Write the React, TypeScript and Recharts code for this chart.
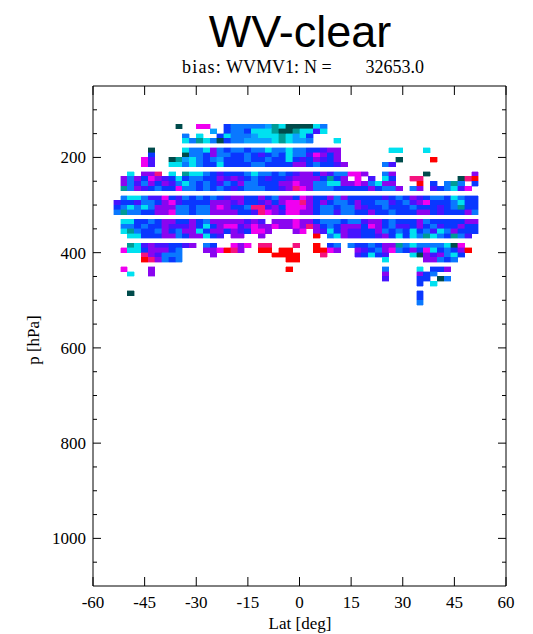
import React from 'react';
import { ComposedChart, XAxis, YAxis, ReferenceArea, Scatter } from 'recharts';

// ---- axes ----
const X_TICKS = [-60, -45, -30, -15, 0, 15, 30, 45, 60];
const Y_TICKS = [100, 150, 200, 250, 300, 350, 400, 450, 500, 550, 600, 650, 700, 750, 800, 850, 900, 950, 1000, 1050];
const Y_LABELED = [200, 400, 600, 800, 1000];
const X_DOMAIN = [-60, 60];
const Y_DOMAIN = [50, 1100];

// ---- grid definition ----
const LAT_START = -56; // left edge of first latitude bin
const LAT_STEP = 2;
const P_START = 130; // top edge of first pressure bin
const P_STEP = 10;

// ---- colour classes of the bias (red = low ... dark teal = high) ----
const CLASS_COLORS: Record<string, string> = {
  R: '#ff0000',
  P: '#f5137f',
  M: '#f000f0',
  V: '#8a05f0',
  I: '#4614ff',
  B: '#0a37ff',
  L: '#0a78ff',
  S: '#0aa0ff',
  C: '#00e1f0',
  T: '#009b96',
  D: '#004b4b',
};

// one string per pressure bin (130-140, 140-150, ...), one char per 2-deg latitude bin from -56
const ROWS = [
  '..........|D..MM..BLL|LLLSTCDDDD|CL........|..........|....',
  '..........|.....S.BLL|BCCCTDDTCC|IC........|..........|....',
  '..........|.L.C..BCLL|LSCCCTCSCB|..........|..........|....',
  '..........|.CLTCLDBLL|SSSSCTCSSL|...C......|..........|....',
  '..........|..........|..........|..........|..........|....',
  '......D...|.CLLCVLBLL|BLLCLLCLLB|BIVV......|.CC...C...|....',
  '......B...|.DLLBVLLBB|LBIBLBCLLI|MVBV......|..........|....',
  '.....MI..D|TSCLBLSBBB|LBBLBBCBIB|VIBV......|..D....R..|....',
  '.....MI..C|CLCLBBCBBB|BLLBBBBVVB|LBBIV.....|LI........|....',
  '..........|..........|..........|..........|..........|....',
  '...C.VVP.C|.TCCLBIBBB|LCLLBLBIVV|BVILLMMV..|LV....D...|...V',
  '..VLVBMVIB|CBLLBBVIVI|BLBIBBIVVV|VBTBV.M.I.|CB..PP....|.DPR',
  '..VLILVBVI|LCLBLBILBV|LLBBBVVMVV|LLCCVVMVLC|VV...R.B.L|TL.B',
  '..TLVIBLBB|MLLBLBLBIB|LLLBBIVPMV|LLLBBBBBVB|LLV.LV.IBL|CIM.',
  '..........|..........|..........|..........|..........|....',
  '..LCCLIIMB|ILBLBLBIVV|BBVBLVVBMV|BBVLVBBBBB|IBLBVIBLLB|CLBB',
  '.IBBILLBVM|IBBBBVVVIV|BBIVBVMMPV|BVBLLBVBBL|LIBLIVMBBB|LCBB',
  '.BLCLCLVVV|LLBLLVMVBB|LPPIVBMMMV|BLLBLLVIBB|LBBBLBBBIB|LTBB',
  '.LTLLBBVVM|LLBLLVVVVB|BIPMVIMMVV|BLLILLBBVB|BLBBBVVBIB|BBVL',
  '..........|..........|..........|..........|..........|....',
  '..CCBBLBVV|BBVBLVVVVV|IVI.VVVMVV|BLLLBLLIVV|BLBBBVLBBB|BBVV',
  '..LLBLBBVI|IIVBCBVMMI|VMVVMVVMVP|VBLBVVVBMV|BLIIBVBLIB|BVBB',
  '..CTLBBLVB|LVVCBVVBVI|BMMV...VM.|VICBVIIBBV|LBLBCBLICL|VBBB',
  '...CCBBBVV|LBVVCBI.VV|..V.......|R.LCVIIBBI|VBCBCLTCLB|TLI.',
  '..........|..........|..........|..........|..........|....',
  '...TCIVIIB|BIV.LB..MV|M.PP...P..|R.BL.LBBLB|VVTLCLLLLC|DM..',
  '..MCCBVVVB|L...VVMRPV|..RR.RR...|RRMV..VIBL|VMLBVBMCBL|BVR.',
  '.....PVILL|L....V....|....RRRR..|.P....IBCB|I...CDVIVL|CB..',
  '.....RPVLB|L.........|......RR..|..........|C.....VVLB|L...',
  '..........|..........|..........|..........|..........|....',
  '..M...V...|..........|......R...|..........|L....C.BBV|....',
  '...C..V...|..........|..........|..........|V....VBL..|....',
  '..........|..........|..........|..........|I....BB.DL|....',
  '..........|..........|..........|..........|.....B.C..|....',
  '..........|..........|..........|..........|..........|....',
  '...D......|..........|..........|..........|.....B....|....',
  '..........|..........|..........|..........|.....B....|....',
  '..........|..........|..........|..........|.....L....|....',
];

type Cell = { x1: number; x2: number; y1: number; y2: number; lat: number; p: number; fill: string };

const CELLS: Cell[] = [];
ROWS.forEach((row, k) => {
  const chars = row.replace(/\|/g, '');
  for (let c = 0; c < chars.length; c++) {
    const ch = chars[c];
    if (ch === '.' || !CLASS_COLORS[ch]) continue;
    const x1 = LAT_START + LAT_STEP * c;
    const y1 = P_START + P_STEP * k;
    CELLS.push({
      x1,
      x2: x1 + LAT_STEP,
      y1,
      y2: y1 + P_STEP,
      lat: x1 + LAT_STEP / 2,
      p: y1 + P_STEP / 2,
      fill: CLASS_COLORS[ch],
    });
  }
});

const FONT = "'Liberation Serif', 'Times New Roman', serif";

const BottomTick = (props: any) => {
  const { x, y, payload } = props;
  return (
    <g>
      <line x1={x} y1={y} x2={x} y2={y - 9} stroke="#000" strokeWidth={1} />
      <text x={x} y={y + 22} textAnchor="middle" fontFamily={FONT} fontSize={17} fill="#000">
        {payload.value}
      </text>
    </g>
  );
};

const TopTick = (props: any) => {
  const { x, y } = props;
  return <line x1={x} y1={y} x2={x} y2={y + 9} stroke="#000" strokeWidth={1} />;
};

const LeftTick = (props: any) => {
  const { x, y, payload } = props;
  const major = Y_LABELED.includes(payload.value);
  return (
    <g>
      <line x1={x} y1={y} x2={x + (major ? 8 : 4)} y2={y} stroke="#000" strokeWidth={1} />
      {major ? (
        <text x={x - 7} y={y + 6} textAnchor="end" fontFamily={FONT} fontSize={17} fill="#000">
          {payload.value}
        </text>
      ) : null}
    </g>
  );
};

const RightTick = (props: any) => {
  const { x, y, payload } = props;
  const major = Y_LABELED.includes(payload.value);
  return <line x1={x} y1={y} x2={x - (major ? 8 : 4)} y2={y} stroke="#000" strokeWidth={1} />;
};

const NoShape = () => <g />;

export default function App() {
  const W = 520;
  const H = 626;
  return (
    <div style={{ position: 'relative', width: W, height: H, background: '#fff' }}>
      <ComposedChart width={W} height={H} data={CELLS} margin={{ top: 77, right: 21, bottom: 47, left: 84 }}>
        <XAxis
          dataKey="lat"
          type="number"
          domain={X_DOMAIN}
          ticks={X_TICKS}
          interval={0}
          height={1}
          tickSize={0}
          tickMargin={0}
          tick={BottomTick}
          tickLine={false}
          axisLine={{ stroke: '#000', strokeWidth: 1 }}
          allowDataOverflow
        />
        <XAxis
          xAxisId="top"
          dataKey="lat"
          orientation="top"
          type="number"
          domain={X_DOMAIN}
          ticks={X_TICKS}
          interval={0}
          height={1}
          tickSize={0}
          tickMargin={0}
          tick={TopTick}
          tickLine={false}
          axisLine={{ stroke: '#000', strokeWidth: 1 }}
          allowDataOverflow
        />
        <YAxis
          dataKey="p"
          type="number"
          domain={Y_DOMAIN}
          reversed
          ticks={Y_TICKS}
          interval={0}
          width={1}
          tickSize={0}
          tickMargin={0}
          tick={LeftTick}
          tickLine={false}
          axisLine={{ stroke: '#000', strokeWidth: 1 }}
          allowDataOverflow
        />
        <YAxis
          yAxisId="right"
          dataKey="p"
          orientation="right"
          type="number"
          domain={Y_DOMAIN}
          reversed
          ticks={Y_TICKS}
          interval={0}
          width={1}
          tickSize={0}
          tickMargin={0}
          tick={RightTick}
          tickLine={false}
          axisLine={{ stroke: '#000', strokeWidth: 1 }}
          allowDataOverflow
        />
        {CELLS.map((c, i) => (
          <ReferenceArea
            key={i}
            x1={c.x1}
            x2={c.x2}
            y1={c.y1}
            y2={c.y2}
            fill={c.fill}
            fillOpacity={1}
            stroke={c.fill}
            strokeWidth={0.4}
            shapeRendering="crispEdges"
            ifOverflow="hidden"
          />
        ))}
        <Scatter dataKey="p" shape={NoShape} isAnimationActive={false} legendType="none" />
      </ComposedChart>
      <svg
        width={W}
        height={H}
        style={{ position: 'absolute', left: 0, top: 0, pointerEvents: 'none', overflow: 'visible' }}
      >
        <text x={292} y={39} textAnchor="middle" fontFamily="'Liberation Sans', Arial, sans-serif" fontSize={45} fill="#000">
          WV-clear
        </text>
        <text y={65} fontFamily={FONT} fontSize={18} fill="#000">
          <tspan x={174} letterSpacing={1.2}>bias:</tspan>
          <tspan x={218}>WVMV1:</tspan>
          <tspan x={296}>N =</tspan>
        </text>
        <text x={416} y={65} textAnchor="end" fontFamily={FONT} fontSize={18} fill="#000">
          32653.0
        </text>
        <text x={292} y={621} textAnchor="middle" fontFamily={FONT} fontSize={17} fill="#000">
          Lat [deg]
        </text>
        <text x={31} y={332} textAnchor="middle" transform="rotate(-90 31 332)" fontFamily={FONT} fontSize={17} fill="#000">
          p [hPa]
        </text>
      </svg>
    </div>
  );
}
